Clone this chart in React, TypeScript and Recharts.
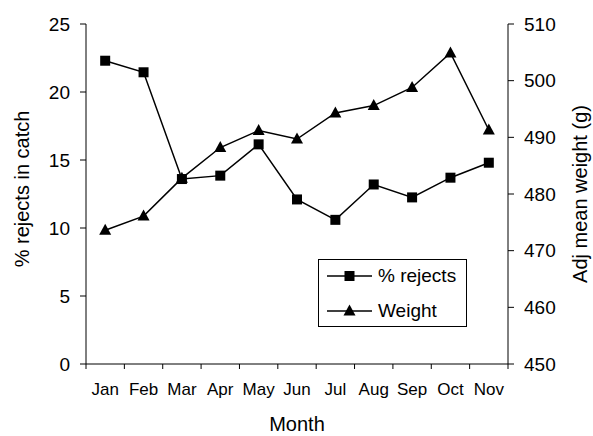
import React from "react"
import { ComposedChart, Line, XAxis, YAxis, Legend, Label } from "recharts"

const months = ["Jan", "Feb", "Mar", "Apr", "May", "Jun", "Jul", "Aug", "Sep", "Oct", "Nov"]
const rejects = [22.3, 21.45, 13.6, 13.85, 16.15, 12.1, 10.6, 13.2, 12.25, 13.7, 14.8]
const weight = [473.6, 476.1, 482.8, 488.2, 491.2, 489.7, 494.3, 495.6, 498.8, 504.9, 491.3]
const rejectTicks = [0, 5, 10, 15, 20, 25]
const weightTicks = [450, 460, 470, 480, 490, 500, 510]

const data = months.map((m, i) => ({ month: m, rejects: rejects[i], weight: weight[i] }))

const W = 593
const H = 436
const LEFT_W = 86
const RIGHT_W = 85
const TOP = 24
const XAXIS_H = 72
const BAND = (W - LEFT_W - RIGHT_W) / months.length
const FONT = "'Liberation Sans', Arial, Helvetica, sans-serif"

function SquareDot(props: any) {
  const { cx, cy, index } = props
  return <rect key={"s" + index} x={cx - 5} y={cy - 5} width={10} height={10} fill="#000" />
}

function TriangleDot(props: any) {
  const { cx, cy, index } = props
  return (
    <polygon
      key={"t" + index}
      points={`${cx},${cy - 6.5} ${cx + 6},${cy + 4.5} ${cx - 6},${cy + 4.5}`}
      fill="#000"
    />
  )
}

// tick marks sit on the category boundaries, labels in the middle
function MonthTick(props: any) {
  const { x, payload, index } = props
  const axisY = H - XAXIS_H
  return (
    <g>
      <line x1={x - BAND / 2} y1={axisY} x2={x - BAND / 2} y2={axisY + 5} stroke="#000" />
      {index === months.length - 1 && (
        <line x1={x + BAND / 2} y1={axisY} x2={x + BAND / 2} y2={axisY + 5} stroke="#000" />
      )}
      <text x={x} y={axisY + 31} textAnchor="middle" fontSize={17} fill="#000">
        {payload.value}
      </text>
    </g>
  )
}

function LegendBox() {
  const rows = [
    { name: "% rejects", marker: <rect x={17.5} y={5} width={10} height={10} fill="#000" /> },
    { name: "Weight", marker: <polygon points="22.5,3.5 28.5,14.5 16.5,14.5" fill="#000" /> },
  ]
  return (
    <div
      style={{
        width: 149,
        height: 68,
        boxSizing: "border-box",
        border: "1px solid #000",
        background: "#fff",
        position: "relative",
        fontFamily: FONT,
      }}
    >
      {rows.map((r, i) => (
        <div
          key={r.name}
          style={{ position: "absolute", left: 8, top: 6 + i * 35, height: 20, display: "flex", alignItems: "center" }}
        >
          <svg width={45} height={20} style={{ display: "block" }}>
            <line x1={0} y1={10} x2={45} y2={10} stroke="#000" strokeWidth={1.5} />
            {r.marker}
          </svg>
          <span style={{ marginLeft: 6, fontSize: 19, color: "#000", lineHeight: "20px" }}>{r.name}</span>
        </div>
      ))}
    </div>
  )
}

export default function App() {
  return (
    <div style={{ position: "absolute", left: 0, top: 0, fontFamily: FONT, background: "#fff" }}>
      <ComposedChart width={W} height={H} data={data} margin={{ top: TOP, right: 0, bottom: 0, left: 0 }}>
        <XAxis
          dataKey="month"
          height={XAXIS_H}
          stroke="#000"
          tickLine={false}
          tick={<MonthTick />}
          interval={0}
          padding={{ left: BAND / 2, right: BAND / 2 }}
        >
          <Label
            content={(p: any) => {
              const vb = p.viewBox
              return (
                <text x={vb.x + vb.width / 2} y={vb.y + 67} textAnchor="middle" fontSize={20} fill="#000">
                  Month
                </text>
              )
            }}
          />
        </XAxis>
        <YAxis
          yAxisId="left"
          orientation="left"
          width={LEFT_W}
          domain={[0, 25]}
          ticks={rejectTicks}
          stroke="#000"
          tickSize={6}
          tickMargin={10}
          tick={{ fill: "#000", fontSize: 19 }}
        >
          <Label
            content={(p: any) => {
              const vb = p.viewBox
              const cy = vb.y + vb.height / 2 - 5
              return (
                <text x={29} y={cy} transform={`rotate(-90, 29, ${cy})`} textAnchor="middle" fontSize={20} fill="#000">
                  % rejects in catch
                </text>
              )
            }}
          />
        </YAxis>
        <YAxis
          yAxisId="right"
          orientation="right"
          width={RIGHT_W}
          domain={[450, 510]}
          ticks={weightTicks}
          stroke="#000"
          tickSize={6}
          tickMargin={10}
          tick={{ fill: "#000", fontSize: 19 }}
        >
          <Label
            content={(p: any) => {
              const vb = p.viewBox
              const cy = vb.y + vb.height / 2
              const x = vb.x + 79
              return (
                <text x={x} y={cy} transform={`rotate(-90, ${x}, ${cy})`} textAnchor="middle" fontSize={20} fill="#000">
                  Adj mean weight (g)
                </text>
              )
            }}
          />
        </YAxis>
        <Legend
          layout="horizontal"
          align="center"
          verticalAlign="middle"
          content={() => <LegendBox />}
          wrapperStyle={{ position: "absolute", left: 318, top: 259, width: 149, height: 68 }}
        />
        <Line
          yAxisId="left"
          dataKey="rejects"
          name="% rejects"
          stroke="#000"
          strokeWidth={1.5}
          dot={(p: any) => <SquareDot {...p} />}
          activeDot={false}
          isAnimationActive={false}
        />
        <Line
          yAxisId="right"
          dataKey="weight"
          name="Weight"
          stroke="#000"
          strokeWidth={1.5}
          dot={(p: any) => <TriangleDot {...p} />}
          activeDot={false}
          isAnimationActive={false}
        />
      </ComposedChart>
    </div>
  )
}
